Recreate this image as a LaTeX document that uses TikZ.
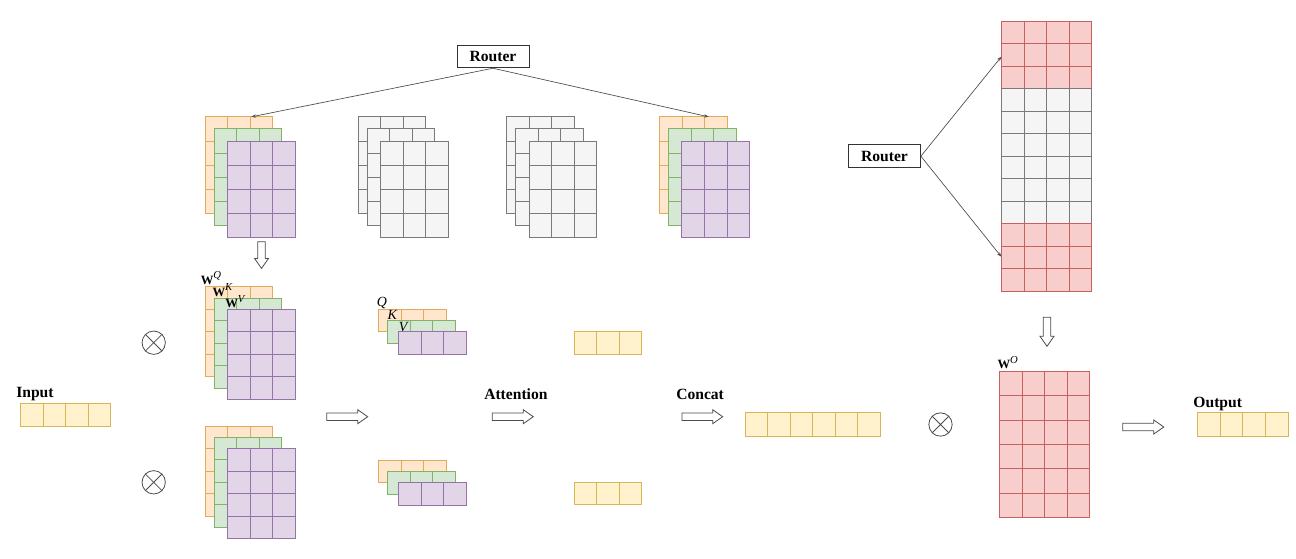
\documentclass[tikz,border=0pt]{standalone}
\usepackage{fontspec}
\setmainfont{Liberation Serif}
\usetikzlibrary{arrows.meta}
\definecolor{orangefill}{HTML}{FFE6CC}
\definecolor{orangeline}{HTML}{E0AC5C}
\definecolor{greenfill}{HTML}{D5E8D4}
\definecolor{greenline}{HTML}{82B366}
\definecolor{purplefill}{HTML}{E1D5E7}
\definecolor{purpleline}{HTML}{9673A6}
\definecolor{yellowfill}{HTML}{FFF2CC}
\definecolor{yellowline}{HTML}{D6B656}
\definecolor{redfill}{HTML}{F8CECC}
\definecolor{redline}{HTML}{C86060}
\definecolor{greyfill}{HTML}{F5F5F5}
\definecolor{greyline}{HTML}{7A7A7A}
\tikzset{orangecell/.style={draw=orangeline,fill=orangefill,line width=0.6pt}}
\tikzset{greencell/.style={draw=greenline,fill=greenfill,line width=0.6pt}}
\tikzset{purplecell/.style={draw=purpleline,fill=purplefill,line width=0.6pt}}
\tikzset{yellowcell/.style={draw=yellowline,fill=yellowfill,line width=0.6pt}}
\tikzset{redcell/.style={draw=redline,fill=redfill,line width=0.6pt}}
\tikzset{greycell/.style={draw=greyline,fill=greyfill,line width=0.6pt}}
\tikzset{routerbox/.style={draw=black!80,fill=white,line width=0.6pt,minimum width=54pt,minimum height=17pt,inner sep=0pt,font=\fontsize{11.7}{14}\selectfont\bfseries}}
\tikzset{route/.style={draw=black!70,line width=0.5pt,-{Stealth[length=3.5pt,width=2.6pt]}}}
\tikzset{lbl/.style={inner sep=0pt,anchor=base west,font=\fontsize{11.7}{14}\selectfont\bfseries}}
\tikzset{wlbl/.style={inner sep=0pt,anchor=base west,font=\fontsize{9.5}{11}\selectfont\bfseries}}
\tikzset{qlbl/.style={inner sep=0pt,anchor=base west,font=\fontsize{10.5}{12}\selectfont\itshape}}
\tikzset{mult/.style={draw=black!70,circle,minimum size=17.5pt,inner sep=0pt,line width=0.6pt}}
\tikzset{hollow/.style={draw=black!70,fill=white,line width=0.6pt}}

% bold W with italic superscript
\newcommand{\wsup}[1]{W\raisebox{0.42em}{\fontsize{8}{9}\selectfont\mdseries\itshape #1}}
% block of cols x rows cells, top left at (x,y)
\newcommand{\cellblock}[7]{%
  \foreach \cc in {1,...,#4}{
    \foreach \rr in {1,...,#5}{
      \draw[#1] (#2+#6*\cc-#6,#3+#7*\rr-#7) rectangle ++(#6,#7);
    }
  }
}
% three stacked 3x4 weight matrices
\newcommand{\wstack}[6]{%
  \cellblock{#4}{#1}{#2}{3}{4}{22.6}{#3}
  \cellblock{#5}{#1+9}{#2+0.5*#3}{3}{4}{22.6}{#3}
  \cellblock{#6}{#1+22.5}{#2+#3}{3}{4}{22.6}{#3}
}
% three stacked 3x1 rows (Q, K, V)
\newcommand{\qkvstack}[2]{%
  \cellblock{orangecell}{#1}{#2}{3}{1}{22.6}{22.4}
  \cellblock{greencell}{#1+9}{#2+11.2}{3}{1}{22.6}{22.4}
  \cellblock{purplecell}{#1+20}{#2+22.4}{3}{1}{22.6}{22.4}
}
% hollow block arrow: start x, start y, angle, length
\newcommand{\hollowarrow}[4]{%
  \draw[hollow,shift={(#1,#2)},rotate=#3] (0,-3.8) -- (#4-10,-3.8) -- (#4-10,-7) -- (#4,0)
    -- (#4-10,7) -- (#4-10,3.8) -- (0,3.8) -- cycle;
}

\begin{document}
\begin{tikzpicture}[x=0.75pt,y=-0.75pt]
  \useasboundingbox (0,0) rectangle (1296,558);

  % experts and router
  \foreach \xs/\sa/\sb/\sc in {205/orangecell/greencell/purplecell,357.9/greycell/greycell/greycell,
      506.4/greycell/greycell/greycell,659.3/orangecell/greencell/purplecell}{
    \wstack{\xs}{116.8}{24.1}{\sa}{\sb}{\sc}
  }
  \node[routerbox] (router1) at (493,56.5) {Router};
  \coordinate (e1) at (251.4,116.8);
  \coordinate (e4) at (708.6,116.8);
  \draw[route] (router1.south) -- (e1);
  \draw[route] (router1.south) -- (e4);
  \hollowarrow{261.5}{241.7}{-90}{26.7}

  % selected weights
  \wstack{205}{286.7}{22.5}{orangecell}{greencell}{purplecell}
  \wstack{205}{426}{22.5}{orangecell}{greencell}{purplecell}
  \node[wlbl] (wq) at (200.5,284.3) {\wsup{Q}};
  \node[wlbl] (wk) at (212.3,296.3) {\wsup{K}};
  \node[wlbl] (wv) at (225,307.7) {\wsup{V}};

  \node[mult] (m1) at (153.7,342.7) {};
  \node[mult] (m2) at (153.7,482.3) {};
  \node[mult] (m3) at (940.5,424.5) {};
  \foreach \m in {m1,m2,m3}{
    \draw[draw=black!70,line width=0.6pt] (\m.45) -- (\m.225) (\m.135) -- (\m.315);
  }

  % input
  \node[lbl] (input) at (16,397) {Input};
  \cellblock{yellowcell}{20.7}{403.3}{4}{1}{22.5}{23.4}
  \hollowarrow{326.7}{416.7}{0}{41}

  % Q K V per head
  \qkvstack{378.3}{309.3}
  \qkvstack{378.3}{460.3}
  \node[qlbl] (q) at (376.5,306) {Q};
  \node[qlbl] (k) at (387.3,319.3) {K};
  \node[qlbl] (v) at (398.5,331.5) {V};

  \node[lbl] (attn) at (484,399) {Attention};
  \hollowarrow{492.3}{416.7}{0}{41}
  \cellblock{yellowcell}{574}{331.7}{3}{1}{22.6}{22.4}
  \cellblock{yellowcell}{574}{482.3}{3}{1}{22.6}{22.4}

  \node[lbl] (concat) at (676,399) {Concat};
  \hollowarrow{682}{416.7}{0}{40.7}
  \cellblock{yellowcell}{745.2}{412.3}{6}{1}{22.5}{24.5}

  % output projection and its router
  \cellblock{redcell}{1001.3}{21}{4}{3}{22.6}{22.5}
  \cellblock{greycell}{1001.3}{88.5}{4}{6}{22.6}{22.5}
  \cellblock{redcell}{1001.3}{223.5}{4}{3}{22.6}{22.5}
  \node[routerbox] (router2) at (884.5,156.2) {Router};
  \coordinate (o1) at (1001.3,56.7);
  \coordinate (o2) at (1001.3,256.7);
  \draw[route] (router2.east) -- (o1);
  \draw[route] (router2.east) -- (o2);
  \hollowarrow{1047}{317.3}{-90}{29}

  \cellblock{redcell}{999.3}{371.1}{4}{6}{22.6}{24.4}
  \node[wlbl] (wo) at (997.3,368.6) {\wsup{O}};

  \hollowarrow{1122.8}{427}{0}{41}
  \node[lbl] (output) at (1193.2,407.6) {Output};
  \cellblock{yellowcell}{1197.5}{412.3}{4}{1}{22.6}{24.5}
\end{tikzpicture}
\end{document}
